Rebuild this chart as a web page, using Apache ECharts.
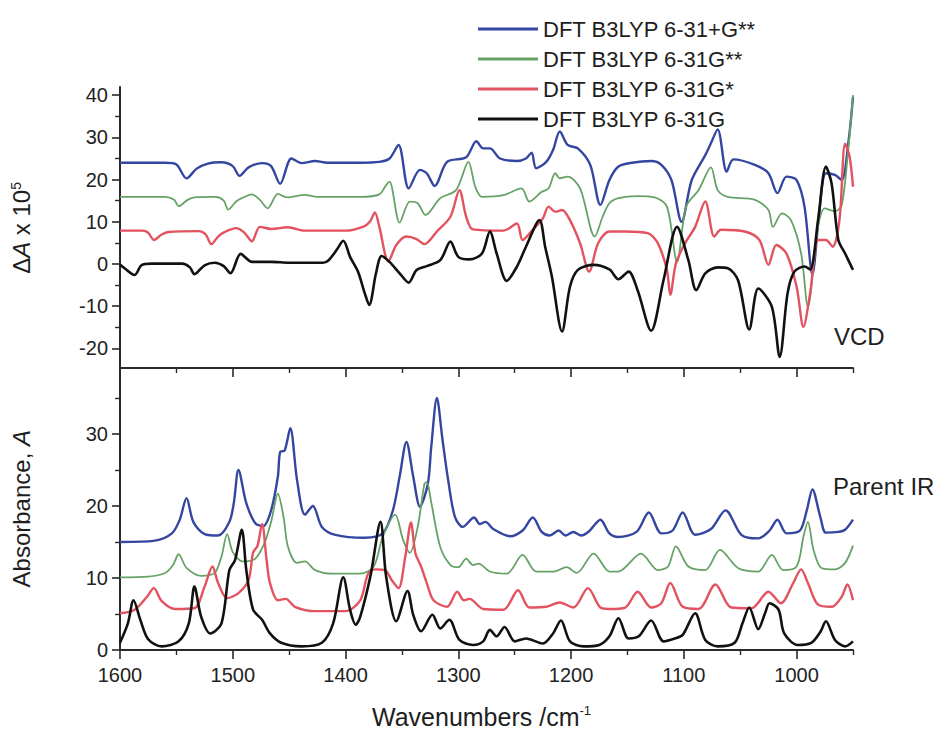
<!DOCTYPE html>
<html>
<head>
<meta charset="utf-8">
<script src="https://cdn.jsdelivr.net/npm/echarts@6/dist/echarts.min.js"></script>
<style>
  html, body { margin: 0; padding: 0; background: #ffffff; }
  #chart { width: 944px; height: 734px; }
</style>
</head>
<body>
<div id="chart"></div>
<script>
// Basis sets, legend order top to bottom
const seriesNames = ['DFT B3LYP 6-31+G**', 'DFT B3LYP 6-31G**', 'DFT B3LYP 6-31G*', 'DFT B3LYP 6-31G'];

// Tick positions
const xMajorTicks = [1600, 1500, 1400, 1300, 1200, 1100, 1000];
const xMinorTicks = [1550, 1450, 1350, 1250, 1150, 1050, 950];
const vcdMajorTicks = [-20, -10, 0, 10, 20, 30, 40];
const vcdMinorTicks = [-15, -5, 5, 15, 25, 35];
const irMajorTicks = [0, 10, 20, 30];
const irMinorTicks = [5, 15, 25, 35];

// VCD spectra: [wavenumber, ΔA x 10^5]
const vcdBlue = [[1600,24.0],[1560,24.0],[1550,23.6],[1541,20.3],[1532,22.6],[1522,23.8],[1510,24.1],[1500,23.2],[1494,20.9],[1486,22.9],[1474,23.9],[1466,23.2],[1458,19.0],[1448,25.0],[1439,23.9],[1427,24.4],[1416,24.0],[1387,24.0],[1370,24.2],[1361,25.0],[1353,28.2],[1344,17.9],[1334,22.3],[1328,21.5],[1321,18.5],[1310,24.2],[1293,25.3],[1284,29.1],[1278,27.4],[1272,27.4],[1263,25.0],[1248,24.4],[1240,25.0],[1235,26.4],[1231,22.7],[1222,24.2],[1216,27.0],[1210,31.4],[1203,28.2],[1194,27.4],[1183,23.5],[1174,14.0],[1166,19.9],[1158,23.1],[1146,24.0],[1129,24.4],[1120,23.5],[1111,19.9],[1102,10.0],[1093,19.9],[1081,25.8],[1076,28.6],[1070,31.9],[1062,21.9],[1056,24.8],[1037,23.5],[1025,21.5],[1017,16.8],[1009,20.7],[1000,19.9],[993,13.6],[986,-2.5],[980,12.0],[974,21.5],[966,21.1],[960,19.9],[954,29.0],[950,39.6]];
const vcdGreen = [[1600,15.9],[1560,15.9],[1552,15.2],[1548,13.7],[1540,15.2],[1534,15.8],[1515,15.9],[1508,15.0],[1504,12.9],[1497,14.8],[1492,15.6],[1483,16.5],[1476,15.2],[1469,13.2],[1460,16.6],[1452,15.8],[1436,16.4],[1425,15.9],[1387,15.9],[1370,16.5],[1364,18.7],[1361,19.5],[1352,9.8],[1343,14.8],[1336,14.4],[1329,11.6],[1316,15.6],[1302,17.5],[1291,24.2],[1285,18.3],[1279,15.9],[1260,16.3],[1244,17.9],[1237,14.8],[1226,17.1],[1220,17.9],[1214,21.5],[1210,20.3],[1203,20.7],[1192,17.9],[1179,6.5],[1172,11.2],[1166,14.4],[1158,15.6],[1141,16.1],[1126,15.8],[1115,13.6],[1106,0.5],[1098,13.6],[1087,17.5],[1076,22.9],[1070,17.5],[1061,15.9],[1037,15.2],[1025,12.8],[1021,8.8],[1013,12.0],[1005,10.4],[996,2.5],[990,-10.1],[981,8.8],[975,13.2],[966,12.5],[960,14.0],[955,25.0],[950,40.0]];
const vcdRed = [[1600,7.9],[1580,7.9],[1575,7.4],[1570,5.7],[1563,7.0],[1557,7.6],[1530,7.8],[1524,7.0],[1519,4.7],[1513,6.5],[1507,7.6],[1497,8.5],[1490,7.5],[1483,5.4],[1476,8.8],[1466,8.3],[1451,8.7],[1437,7.9],[1400,7.9],[1383,9.0],[1378,10.2],[1374,12.2],[1370,8.8],[1362,0.6],[1355,4.5],[1346,6.5],[1337,5.9],[1330,4.7],[1319,7.7],[1307,11.2],[1299,17.5],[1293,11.2],[1287,8.2],[1260,7.9],[1248,9.6],[1243,5.7],[1234,8.1],[1225,10.8],[1220,13.6],[1214,12.4],[1208,12.8],[1201,10.4],[1192,4.9],[1184,-1.8],[1176,4.9],[1166,7.7],[1152,7.7],[1132,7.3],[1123,4.9],[1115,-1.4],[1112,-7.3],[1107,0.2],[1099,4.9],[1090,8.8],[1081,14.8],[1073,6.5],[1067,8.1],[1046,7.7],[1033,5.7],[1025,-0.2],[1018,4.5],[1009,2.5],[1000,-5.4],[994,-14.9],[988,-6.9],[981,5.7],[974,5.7],[968,4.1],[962,10.4],[957,28.5],[953,25.4],[950,18.3]];
const vcdBlack = [[1600,-0.1],[1596,-1.0],[1587,-2.6],[1581,-0.3],[1572,0.1],[1545,0.1],[1538,-0.8],[1534,-2.4],[1525,-0.3],[1516,0.3],[1508,-0.5],[1502,-2.2],[1493,2.4],[1483,0.5],[1466,0.5],[1450,0.3],[1420,0.3],[1415,0.9],[1408,3.3],[1402,5.5],[1396,1.7],[1389,-1.8],[1383,-6.9],[1379,-9.7],[1373,-2.2],[1368,1.9],[1361,0.5],[1352,-2.2],[1344,-4.4],[1337,-1.4],[1328,-0.5],[1316,0.9],[1307,5.3],[1300,1.7],[1290,1.1],[1279,2.5],[1272,7.7],[1266,2.5],[1257,-4.0],[1248,-0.6],[1240,4.1],[1228,10.4],[1223,4.1],[1217,-3.0],[1208,-16.0],[1201,-5.4],[1194,-1.4],[1180,-0.2],[1166,-1.3],[1158,-3.6],[1149,-1.8],[1141,-6.2],[1129,-15.8],[1118,-3.8],[1106,8.8],[1096,0.9],[1089,-6.2],[1081,-2.2],[1070,-0.8],[1061,-1.0],[1052,-3.8],[1042,-15.5],[1034,-5.8],[1022,-10.1],[1015,-22.0],[1008,-6.9],[1002,-1.8],[993,-0.6],[988,-1.3],[981,10.4],[974,23.1],[969,19.1],[963,5.7],[957,2.5],[950,-1.4]];

// Parent IR spectra: [wavenumber, absorbance]
const irBlue = [[1600,15.0],[1569,15.2],[1554,16.2],[1547,18.1],[1541,21.1],[1535,17.8],[1525,16.1],[1513,15.9],[1503,17.8],[1499,20.5],[1495,25.0],[1488,20.4],[1480,17.6],[1473,17.2],[1466,19.4],[1460,24.1],[1458,27.5],[1454,27.7],[1449,30.8],[1443,23.6],[1436,18.8],[1429,20.0],[1421,17.1],[1409,16.0],[1383,15.6],[1367,16.2],[1358,19.4],[1352,24.1],[1346,28.9],[1340,24.1],[1334,19.9],[1327,23.1],[1324,28.2],[1319,35.0],[1314,29.2],[1309,23.6],[1303,18.5],[1296,17.1],[1286,18.4],[1281,17.5],[1276,17.8],[1269,16.8],[1254,15.8],[1243,16.6],[1234,18.4],[1226,16.4],[1219,15.9],[1211,16.6],[1205,15.9],[1198,16.4],[1191,15.9],[1184,16.5],[1174,18.1],[1166,16.2],[1158,15.7],[1142,16.4],[1131,19.1],[1120,16.2],[1110,16.6],[1101,19.1],[1090,16.0],[1076,16.8],[1063,19.4],[1049,16.0],[1034,15.5],[1024,16.6],[1017,18.1],[1009,16.2],[997,16.6],[991,19.4],[986,22.3],[979,18.5],[974,16.3],[963,16.4],[957,16.7],[950,18.1]];
const irGreen = [[1600,10.1],[1575,10.2],[1560,10.7],[1553,11.8],[1548,13.3],[1541,11.4],[1528,10.3],[1516,10.7],[1510,13.0],[1505,16.1],[1500,13.6],[1491,12.3],[1480,12.7],[1472,14.8],[1466,17.8],[1460,21.7],[1455,18.5],[1451,14.3],[1443,12.1],[1436,12.3],[1427,11.1],[1412,10.6],[1387,10.6],[1375,11.6],[1367,15.7],[1356,18.8],[1349,15.3],[1343,13.5],[1336,17.1],[1330,23.1],[1328,23.3],[1324,20.5],[1316,14.3],[1307,11.8],[1300,11.5],[1293,12.7],[1287,11.8],[1282,12.0],[1272,10.9],[1257,10.6],[1243,13.2],[1231,10.9],[1215,10.9],[1204,11.5],[1195,10.7],[1180,13.4],[1166,10.9],[1158,10.9],[1138,13.4],[1123,11.1],[1114,11.6],[1107,14.4],[1096,11.6],[1081,11.1],[1068,13.9],[1052,11.4],[1034,10.9],[1022,13.2],[1012,11.1],[1000,11.6],[994,15.7],[990,17.8],[985,13.9],[978,11.4],[966,11.2],[957,12.1],[950,14.5]];
const irRed = [[1600,5.1],[1587,5.6],[1576,7.4],[1570,8.6],[1563,6.8],[1551,5.7],[1534,5.8],[1525,8.8],[1518,11.6],[1513,9.3],[1505,7.2],[1495,7.9],[1486,9.7],[1482,13.5],[1478,14.5],[1474,17.5],[1470,12.5],[1467,9.3],[1460,6.9],[1453,7.1],[1445,6.0],[1427,5.4],[1400,5.4],[1387,6.9],[1380,10.6],[1374,11.2],[1365,11.1],[1359,9.7],[1353,8.6],[1347,13.0],[1342,17.7],[1338,13.4],[1333,11.6],[1328,9.3],[1322,6.9],[1310,6.0],[1301,8.1],[1295,6.9],[1290,7.1],[1278,5.7],[1260,5.6],[1247,8.3],[1237,5.9],[1222,6.0],[1210,6.6],[1198,5.9],[1185,8.6],[1174,5.9],[1166,5.7],[1152,5.9],[1141,8.1],[1129,5.9],[1120,6.5],[1112,9.3],[1101,6.0],[1087,5.7],[1072,9.1],[1058,5.9],[1040,5.8],[1025,8.1],[1014,6.5],[1003,9.3],[996,11.2],[990,9.3],[981,6.3],[969,6.0],[960,7.4],[955,9.1],[950,6.9]];
const irBlack = [[1600,1.0],[1593,3.7],[1588,6.9],[1582,4.2],[1575,1.5],[1563,0.5],[1548,1.2],[1539,3.7],[1534,8.8],[1528,4.6],[1520,2.3],[1510,3.7],[1503,11.1],[1498,12.5],[1492,16.7],[1488,11.1],[1482,5.6],[1474,4.2],[1467,2.3],[1457,1.0],[1439,0.5],[1421,1.0],[1411,3.7],[1402,10.1],[1396,5.6],[1391,3.5],[1387,4.6],[1378,10.2],[1369,17.8],[1364,10.2],[1355,4.0],[1345,8.2],[1340,4.9],[1333,2.6],[1323,4.9],[1316,3.0],[1308,4.2],[1299,1.4],[1287,0.7],[1278,1.2],[1272,2.8],[1266,1.9],[1259,3.2],[1250,1.2],[1240,1.6],[1225,0.9],[1216,2.3],[1209,4.1],[1201,1.2],[1189,0.5],[1175,0.7],[1166,1.9],[1158,4.4],[1149,1.6],[1140,1.9],[1129,4.1],[1118,1.2],[1108,1.6],[1101,2.1],[1090,5.1],[1081,1.4],[1070,0.5],[1055,1.0],[1048,3.7],[1042,5.9],[1034,2.9],[1028,5.1],[1024,6.5],[1016,5.6],[1011,2.3],[999,0.7],[987,1.0],[979,2.5],[974,4.0],[966,1.4],[957,0.5],[950,1.2]];

const vcdSets = [vcdBlue, vcdGreen, vcdRed, vcdBlack];
const irSets = [irBlue, irGreen, irRed, irBlack];

const colors = ['#34469f', '#66a266', '#e2525f', '#111111'];
const widths = [2.4, 1.8, 2.4, 2.6];
const FONT = '"Liberation Sans", Arial, Helvetica, sans-serif';
const AXIS_COLOR = '#2a2a2a';

const chart = echarts.init(document.getElementById('chart'), null, { renderer: 'svg' });

function plainNumber(v) { return String(Math.round(v)); }

function xAxisPair(gridIndex, withLabels) {
  return [
    {
      gridIndex, type: 'value', min: 950, max: 1600, inverse: true, position: 'bottom',
      axisLine: { show: true, onZero: false, lineStyle: { color: AXIS_COLOR, width: 2 } },
      axisTick: { show: true, inside: false, length: 9, customValues: xMajorTicks, lineStyle: { color: AXIS_COLOR, width: 1.6 } },
      axisLabel: withLabels
        ? { show: true, customValues: xMajorTicks, formatter: plainNumber, margin: 15, fontSize: 20, fontFamily: FONT, color: '#222' }
        : { show: false },
      splitLine: { show: false }
    },
    {
      gridIndex, type: 'value', min: 950, max: 1600, inverse: true, position: 'bottom',
      axisLine: { show: false, onZero: false },
      axisTick: { show: true, inside: false, length: 5, customValues: xMinorTicks, lineStyle: { color: AXIS_COLOR, width: 1.4 } },
      axisLabel: { show: false },
      splitLine: { show: false }
    }
  ];
}

function yAxisPair(gridIndex, min, max, major, minor) {
  return [
    {
      gridIndex, type: 'value', min, max, position: 'left',
      axisLine: { show: true, onZero: false, lineStyle: { color: AXIS_COLOR, width: 2 } },
      axisTick: { show: true, inside: false, length: 8, customValues: major, lineStyle: { color: AXIS_COLOR, width: 1.6 } },
      axisLabel: { show: true, customValues: major, formatter: plainNumber, margin: 12, fontSize: 20, fontFamily: FONT, color: '#222' },
      splitLine: { show: false }
    },
    {
      gridIndex, type: 'value', min, max, position: 'left',
      axisLine: { show: false, onZero: false },
      axisTick: { show: true, inside: false, length: 5, customValues: minor, lineStyle: { color: AXIS_COLOR, width: 1.4 } },
      axisLabel: { show: false },
      splitLine: { show: false }
    }
  ];
}

const series = [];
[2, 1, 0, 3].forEach(function (i) {
  series.push({
    name: seriesNames[i], type: 'line', xAxisIndex: 0, yAxisIndex: 0,
    data: vcdSets[i], showSymbol: false, symbol: 'none', smooth: 0.3,
    lineStyle: { color: colors[i], width: widths[i] }, itemStyle: { color: colors[i] },
    z: 2 + i
  });
  series.push({
    name: seriesNames[i], type: 'line', xAxisIndex: 2, yAxisIndex: 2,
    data: irSets[i], showSymbol: false, symbol: 'none', smooth: 0.3,
    lineStyle: { color: colors[i], width: widths[i] }, itemStyle: { color: colors[i] },
    z: 2 + i
  });
});

const textStyleBase = { fill: '#1e1e1e', fontFamily: FONT };

chart.setOption({
  animation: false,
  backgroundColor: '#ffffff',
  grid: [
    { left: 120, top: 87, width: 733, height: 281 },
    { left: 120, top: 368, width: 733, height: 282 }
  ],
  xAxis: xAxisPair(0, false).concat(xAxisPair(1, true)),
  yAxis: yAxisPair(0, -24.64, 41.94, vcdMajorTicks, vcdMinorTicks)
    .concat(yAxisPair(1, 0, 39.17, irMajorTicks, irMinorTicks)),
  legend: {
    data: seriesNames,
    orient: 'vertical', left: 473, top: 13,
    itemWidth: 60, itemHeight: 3, itemGap: 8, icon: 'rect',
    selectedMode: false,
    textStyle: { fontSize: 22, lineHeight: 22, fontFamily: FONT, color: '#1e1e1e' }
  },
  graphic: [
    {
      type: 'text', left: 9, top: 182, rotation: Math.PI / 2,
      style: Object.assign({}, textStyleBase, {
        text: '{d|Δ}{a|A}{t| x 10}{s|5}',
        rich: {
          d: { fontSize: 24, fontFamily: FONT, fill: '#1e1e1e' },
          a: { fontSize: 24, fontStyle: 'italic', fontFamily: FONT, fill: '#1e1e1e' },
          t: { fontSize: 24, fontFamily: FONT, fill: '#1e1e1e' },
          s: { fontSize: 14, fontFamily: FONT, fill: '#1e1e1e', verticalAlign: 'top', padding: [0, 0, 10, 0] }
        }
      })
    },
    {
      type: 'text', left: 9, top: 430, rotation: Math.PI / 2,
      style: Object.assign({}, textStyleBase, {
        text: '{n|Absorbance, }{a|A}',
        rich: {
          n: { fontSize: 24, fontFamily: FONT, fill: '#1e1e1e' },
          a: { fontSize: 24, fontStyle: 'italic', fontFamily: FONT, fill: '#1e1e1e' }
        }
      })
    },
    {
      type: 'text', left: 372, top: 704,
      style: Object.assign({}, textStyleBase, {
        text: '{n|Wavenumbers /cm}{s|-1}',
        rich: {
          n: { fontSize: 25, fontFamily: FONT, fill: '#1e1e1e' },
          s: { fontSize: 13, fontFamily: FONT, fill: '#1e1e1e', verticalAlign: 'top', padding: [0, 0, 12, 0] }
        }
      })
    },
    {
      type: 'text', left: 834, top: 324,
      style: Object.assign({}, textStyleBase, { text: 'VCD', fontSize: 24 })
    },
    {
      type: 'text', left: 833, top: 474,
      style: Object.assign({}, textStyleBase, { text: 'Parent IR', fontSize: 24 })
    }
  ],
  series: series
});
</script>
</body>
</html>
